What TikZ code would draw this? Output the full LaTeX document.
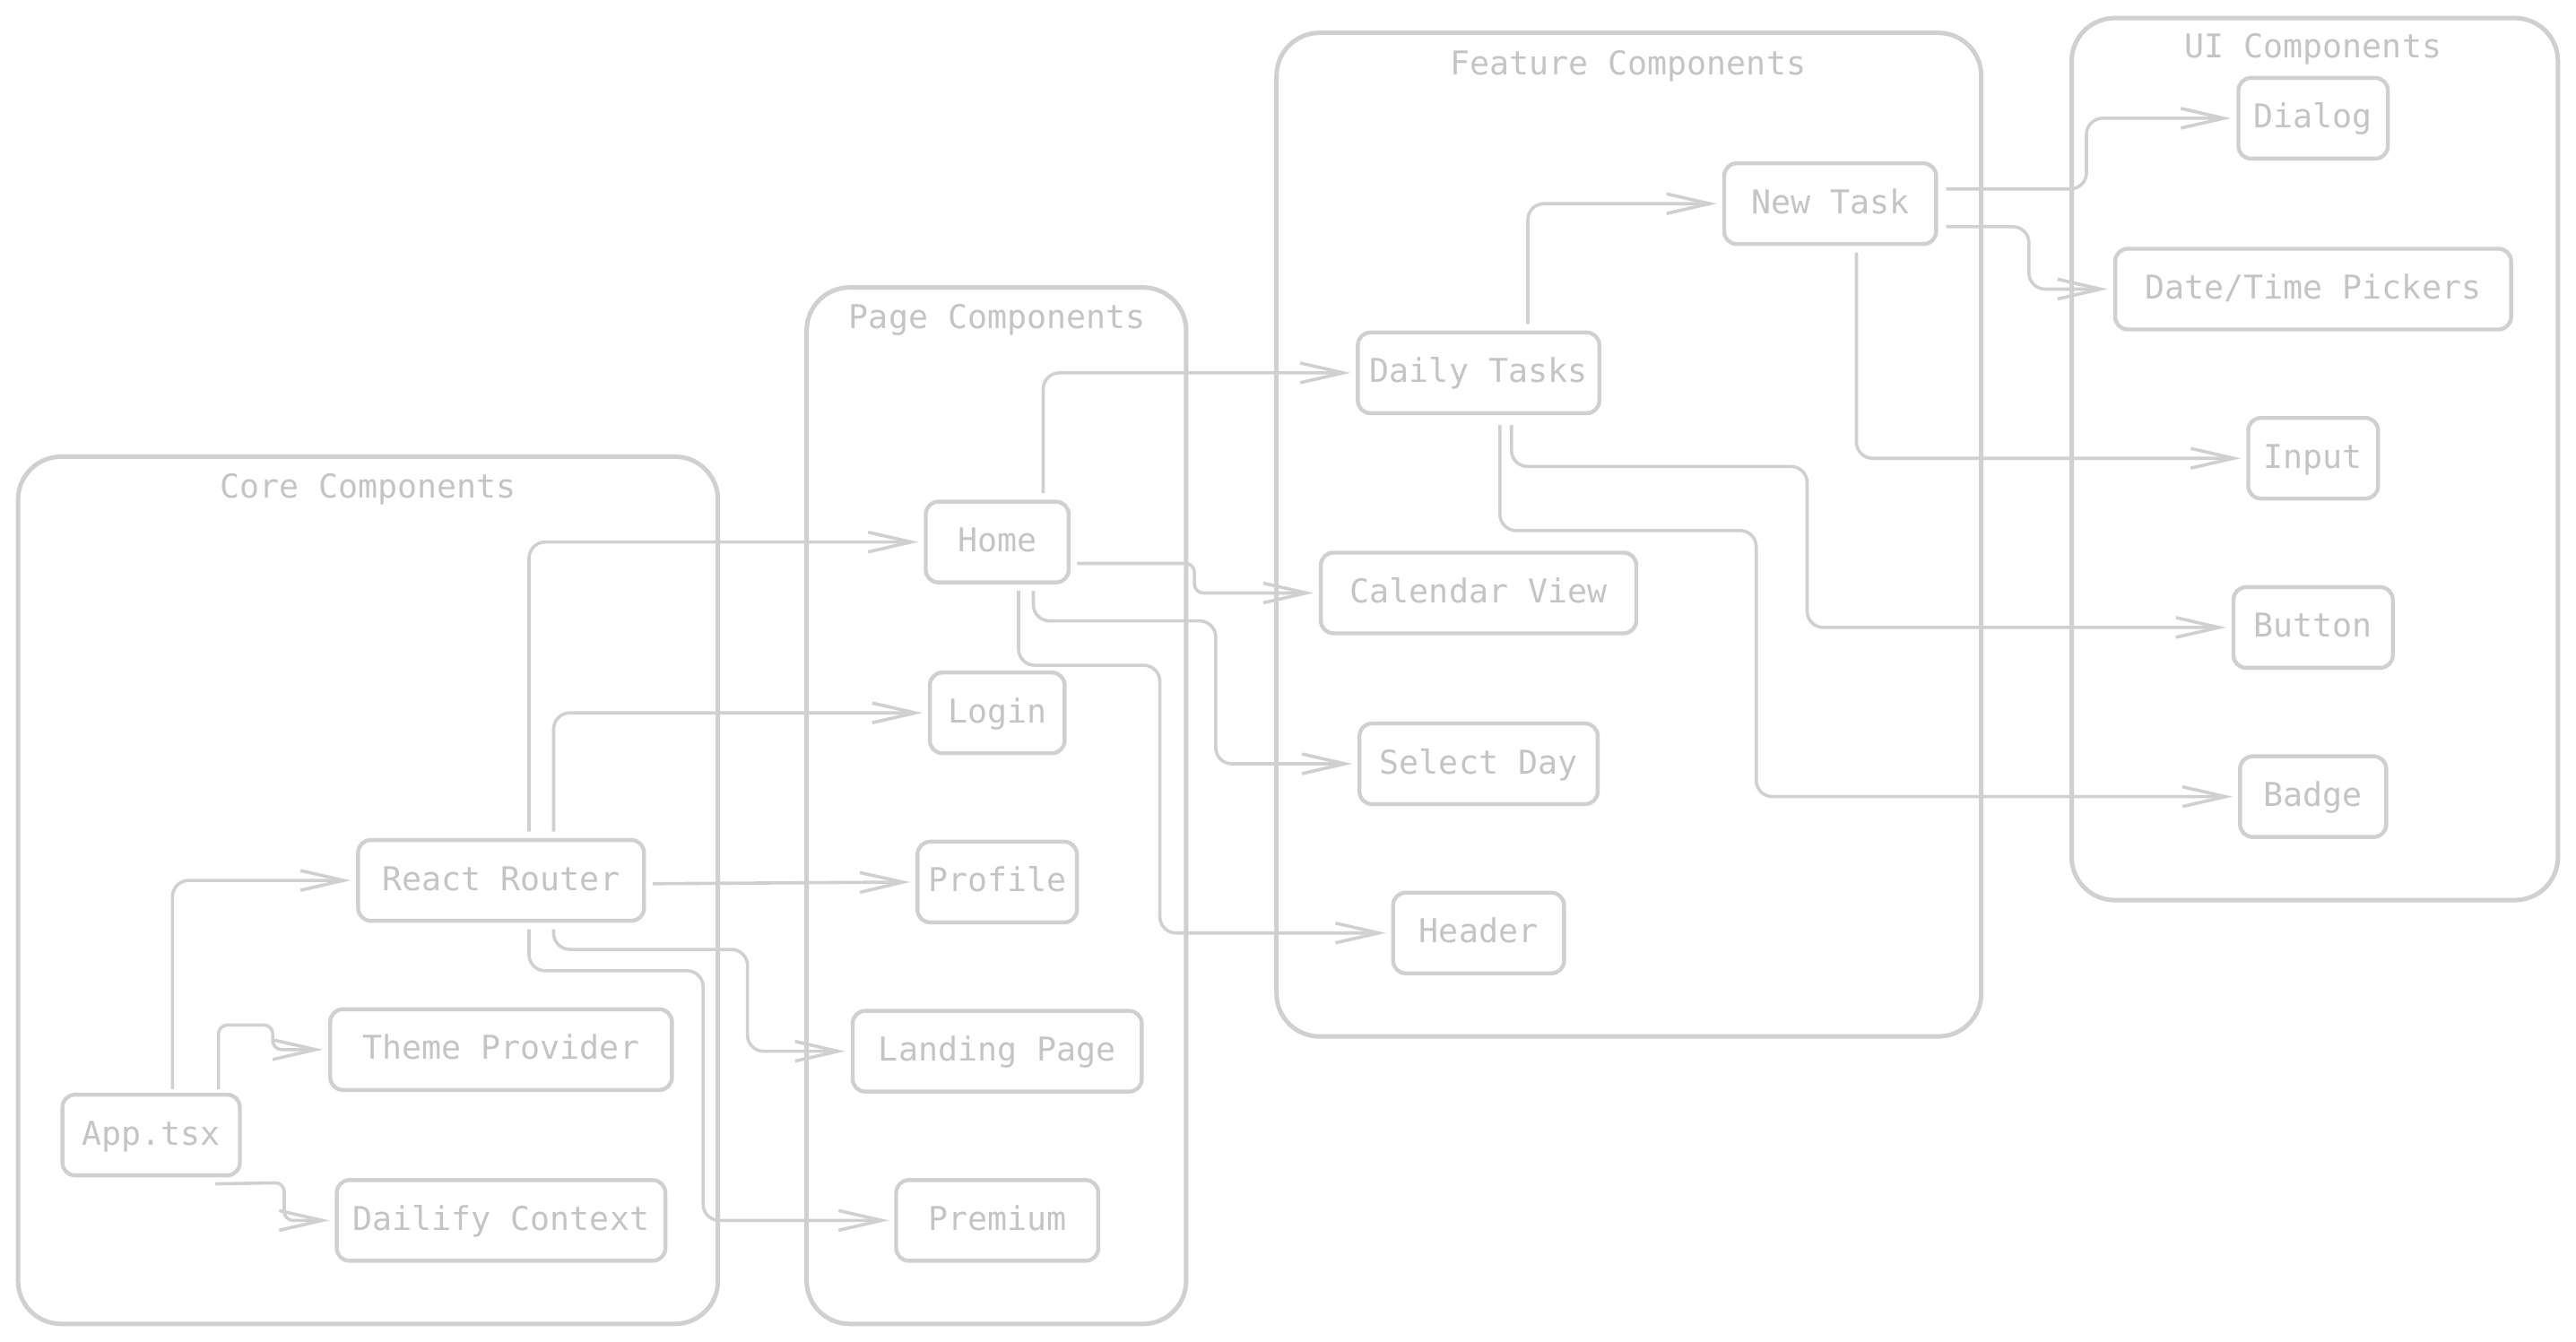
\documentclass[tikz,border=0pt]{standalone}
\usepackage{fontspec}
\setmonofont{DejaVu Sans Mono}
\usetikzlibrary{arrows.meta,calc}
\definecolor{ln}{RGB}{208,208,208}
\definecolor{tx}{RGB}{196,196,196}
\begin{document}
\begin{tikzpicture}[x=0.91615pt,y=-0.91615pt,
  lbl/.style={font=\ttfamily\fontsize{18.3}{20}\selectfont, text=tx},
  comp/.style={lbl, draw=ln, line width=2.2pt, rounded corners=7pt, minimum height=45pt, inner sep=0pt, text depth=0pt, text height=11pt},
  group/.style={draw=ln, line width=2.5pt, rounded corners=24pt, inner sep=0pt},
  conn/.style={draw=ln, line width=1.8pt, rounded corners=9pt, -{Straight Barb[length=24pt,width=11pt]}, shorten >=3pt},
  tight/.style={rounded corners=5pt}
]
\useasboundingbox (0,0) rectangle (1568,817);
% containers
\node[group, minimum width=426*0.91615pt, minimum height=528*0.91615pt] (core) at (224,542) {};
\node[group, minimum width=231*0.91615pt, minimum height=631*0.91615pt] (page) at (606.5,490.5) {};
\node[group, minimum width=429*0.91615pt, minimum height=611*0.91615pt] (feat) at (991.5,325.5) {};
\node[group, minimum width=296*0.91615pt, minimum height=537*0.91615pt] (ui) at (1409,279.5) {};
\node[lbl] (coreT) at (224,298) {Core Components};
\node[lbl] (pageT) at (607,195) {Page Components};
\node[lbl] (featT) at (991,40) {Feature Components};
\node[lbl] (uiT) at (1408,30) {UI Components};
% components
\node[comp, minimum width=108*0.91615pt] (app) at (92,691) {App.tsx};
\node[comp, minimum width=208*0.91615pt] (tp) at (305,639) {Theme Provider};
\node[comp, minimum width=200*0.91615pt] (dc) at (305,743) {Dailify Context};
\node[comp, minimum width=174*0.91615pt] (rr) at (305,536) {React Router};
\node[comp, minimum width=87*0.91615pt] (home) at (607,330) {Home};
\node[comp, minimum width=82*0.91615pt] (login) at (607,434) {Login};
\node[comp, minimum width=97*0.91615pt] (profile) at (607,537) {Profile};
\node[comp, minimum width=176*0.91615pt] (lp) at (607,640) {Landing Page};
\node[comp, minimum width=123*0.91615pt] (prem) at (607,743) {Premium};
\node[comp, minimum width=147*0.91615pt] (dt) at (900,227) {Daily Tasks};
\node[comp, minimum width=129*0.91615pt] (nt) at (1114,124) {New Task};
\node[comp, minimum width=192*0.91615pt] (cv) at (900,361) {Calendar View};
\node[comp, minimum width=145*0.91615pt] (sd) at (900,465) {Select Day};
\node[comp, minimum width=104*0.91615pt] (hdr) at (900,568) {Header};
\node[comp, minimum width=91*0.91615pt] (dialog) at (1408,72) {Dialog};
\node[comp, minimum width=241*0.91615pt] (dtp) at (1408,176) {Date/Time Pickers};
\node[comp, minimum width=79*0.91615pt] (input) at (1408,279) {Input};
\node[comp, minimum width=97*0.91615pt] (btn) at (1408,382) {Button};
\node[comp, minimum width=89*0.91615pt] (badge) at (1408,485) {Badge};
% connectors
\draw[conn] ($(app.north)+(13,-2)$) |- (rr.west);
\draw[conn, tight] ($(app.north)+(41,-2)$) |- (166,624) |- (tp.west);
\draw[conn, tight] ($(app.south)+(39,4)$) -- (173,720) |- (dc.west);
\draw[conn] ($(rr.north)+(17,-4)$) |- (home.west);
\draw[conn] ($(rr.north)+(32,-4)$) |- (login.west);
\draw[conn] ($(rr.east)+(4,2)$) -- (profile.west);
\draw[conn] ($(rr.south)+(32,4)$) |- (455,578) |- (lp.west);
\draw[conn] ($(rr.south)+(17,4)$) |- (428,591) |- (prem.west);
\draw[conn] ($(home.north)+(28,-4)$) |- (dt.west);
\draw[conn, tight] ($(home.east)+(4,13)$) -- (727,343) |- (cv.west);
\draw[conn] ($(home.south)+(22,4)$) |- (740,378) |- (sd.west);
\draw[conn] ($(home.south)+(13,4)$) |- (706,405) |- (hdr.west);
\draw[conn] ($(dt.north)+(30,-4)$) |- (nt.west);
\draw[conn] ($(dt.south)+(20,6)$) |- (1100,284) |- (btn.west);
\draw[conn] ($(dt.south)+(13,6)$) |- (1069,323) |- (badge.west);
\draw[conn] ($(nt.east)+(5,-9)$) -- (1270,115) |- (dialog.west);
\draw[conn] ($(nt.east)+(5,14)$) -- (1235,138) |- (dtp.west);
\draw[conn] ($(nt.south)+(16,4)$) |- (input.west);
\end{tikzpicture}
\end{document}
